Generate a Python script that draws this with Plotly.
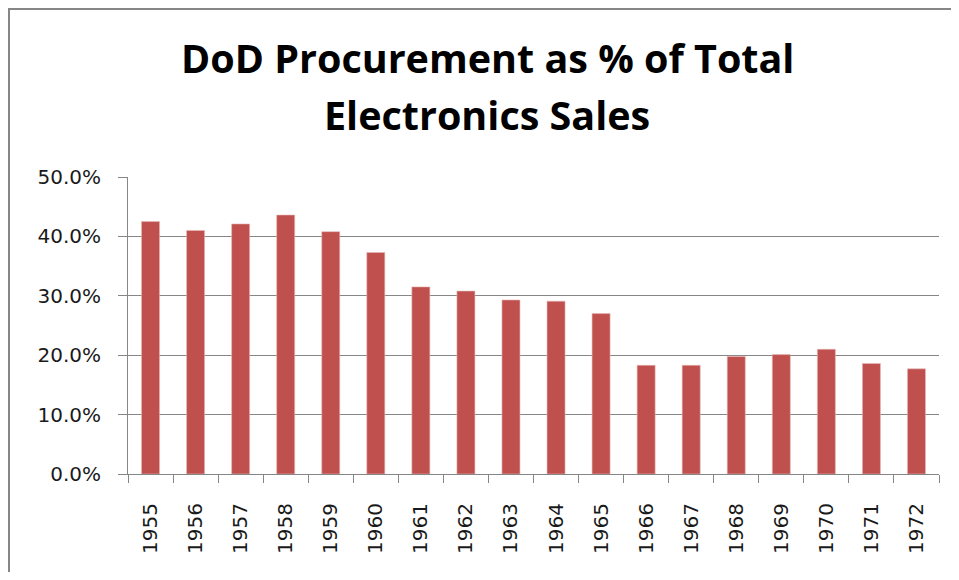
import plotly.graph_objects as go

years = [str(y) for y in range(1955, 1973)]
pct = [42.5, 41.0, 42.1, 43.6, 40.8, 37.3, 31.5, 30.8, 29.3, 29.1, 27.0,
       18.3, 18.3, 19.8, 20.1, 21.0, 18.6, 17.7]
title_lines = ["DoD Procurement as % of Total", "Electronics Sales"]

OFF = 8  # page body margin
W, H = 959 - 2 * OFF, 580 - 2 * OFF
L, T = 128 - OFF, 177 - OFF
R = (OFF + W) - 939
B = (OFF + H) - 474
pw, ph = W - L - R, H - T - B

def px(x):  # window pixel -> paper
    return (x - OFF - L) / pw

def py(y):
    return (H - B - (y - OFF)) / ph

grid = "#868686"
fig = go.Figure(go.Bar(
    x=years, y=[v / 100 for v in pct],
    marker=dict(color="#C0504D", line=dict(color="#E6B9B8", width=0.6)),
    hoverinfo="x+y",
))
fig.update_layout(
    width=W, height=H, margin=dict(l=L, r=R, t=T, b=B),
    paper_bgcolor="white", plot_bgcolor="white",
    bargap=0.6, showlegend=False,
    font=dict(family="DejaVu Sans", size=20, color="#1a1a1a"),
)
fig.update_xaxes(
    type="category", tickangle=-90, tickson="boundaries",
    ticks="outside", ticklen=8, tickcolor=grid, tickwidth=1,
    showline=True, linecolor=grid, linewidth=1, showgrid=False,
    ticklabelstandoff=20,
)
fig.update_yaxes(
    range=[0, 0.5], dtick=0.1, tickformat=".1%",
    ticks="outside", ticklen=9, tickcolor=grid, tickwidth=1,
    showline=True, linecolor=grid, linewidth=1,
    showgrid=True, gridcolor=grid, gridwidth=1, zeroline=False,
    ticklabelstandoff=13,
)
centers = [(57.5, title_lines[0]), (114.5, title_lines[1])]
for yc, txt in centers:
    fig.add_annotation(
        text=txt, xref="paper", yref="paper", x=px(487), y=py(yc),
        xanchor="center", yanchor="middle", showarrow=False,
        font=dict(family="Open Sans", size=39.5, color="black", weight="bold"),
    )
# chart frame: top and left edges
fig.add_shape(type="line", xref="paper", yref="paper",
              x0=px(8), x1=px(OFF + W), y0=py(9), y1=py(9),
              line=dict(color=grid, width=2))
fig.add_shape(type="line", xref="paper", yref="paper",
              x0=px(9), x1=px(9), y0=py(8), y1=py(OFF + H),
              line=dict(color=grid, width=2))
# white cover over the right and bottom edges of the page area
fig.add_shape(type="rect", xref="paper", yref="paper", layer="above",
              x0=px(OFF + W - 3), x1=px(OFF + W + 2), y0=py(OFF + H + 2), y1=py(10),
              line=dict(width=0), fillcolor="white")
fig.add_shape(type="rect", xref="paper", yref="paper", layer="above",
              x0=px(10), x1=px(OFF + W + 2), y0=py(OFF + H + 2), y1=py(OFF + H - 3),
              line=dict(width=0), fillcolor="white")
fig.write_html("out.html")
